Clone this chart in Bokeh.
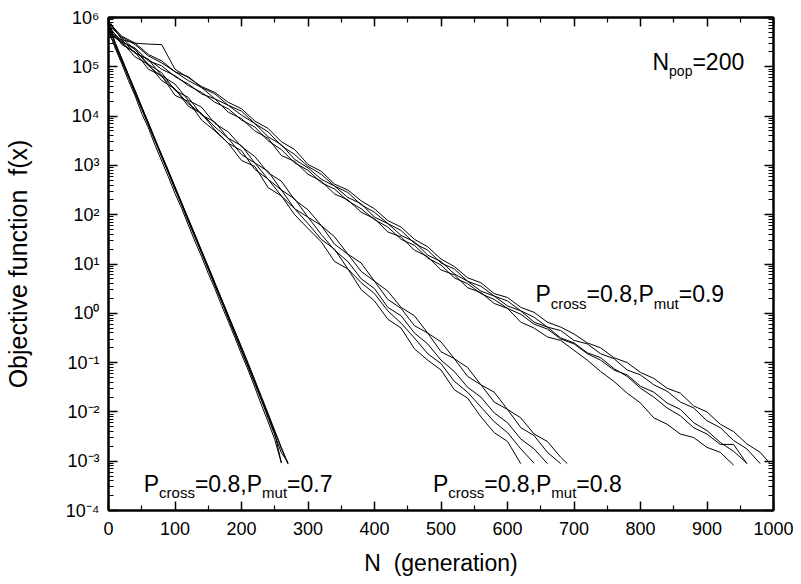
import math
from bokeh.plotting import figure
from bokeh.models import Range1d, FixedTicker, LinearAxis, LogAxis, Label, CustomJSTickFormatter
from bokeh.embed import file_html
from bokeh.resources import INLINE

FONT = "Liberation Sans"

# ---------------- data (log10 of f(x)) ----------------
# P_mut = 0.7 group
gen_a = [0, 10, 20, 30, 40, 50, 60, 70, 80, 90, 100, 110, 120, 130, 140, 150, 160,
         170, 180, 190, 200, 210, 220, 230, 240, 250, 260, 270]
a1 = [5.75, 5.38, 5.06, 4.72, 4.41, 4.05, 3.76, 3.41, 3.09, 2.77, 2.43, 2.13, 1.79, 1.46,
      1.15, 0.81, 0.5, 0.16, -0.16, -0.49, -0.83, -1.15, -1.5, -1.86, -2.2, -2.56, -3.04]
a2 = [5.86, 5.5, 5.16, 4.84, 4.52, 4.19, 3.86, 3.54, 3.21, 2.9, 2.56, 2.24, 1.91, 1.59,
      1.26, 0.94, 0.61, 0.29, -0.05, -0.37, -0.7, -1.04, -1.38, -1.72, -2.06, -2.4, -2.75, -3.06]
a3 = [5.7, 5.42, 5.1, 4.79, 4.46, 4.13, 3.82, 3.49, 3.17, 2.85, 2.51, 2.2, 1.86, 1.54,
      1.22, 0.89, 0.56, 0.24, -0.1, -0.43, -0.76, -1.09, -1.43, -1.77, -2.12, -2.47, -2.83, -3.02]
a4 = [5.9, 5.47, 5.17, 4.83, 4.51, 4.18, 3.87, 3.52, 3.21, 2.88, 2.57, 2.24, 1.92, 1.6,
      1.27, 0.95, 0.62, 0.29, -0.03, -0.36, -0.68, -1.01, -1.35, -1.69, -2.03, -2.38, -2.72, -3.05]
a5 = [5.8, 5.46, 5.13, 4.8, 4.47, 4.16, 3.83, 3.51, 3.18, 2.86, 2.53, 2.21, 1.88, 1.56,
      1.23, 0.9, 0.58, 0.25, -0.08, -0.41, -0.74, -1.07, -1.4, -1.74, -2.09, -2.44, -3.03]

# P_mut = 0.8 group
gen_b = [0, 20, 40, 60, 80, 100, 120, 140, 160, 180, 200, 220, 240, 260, 280, 300, 320,
         340, 360, 380, 400, 420, 440, 460, 480, 500, 520, 540, 560, 580, 600, 620, 640,
         660, 680, 690]
b1 = [5.85, 5.45, 5.3, 4.95, 4.82, 4.42, 4.3, 3.92, 3.7, 3.45, 3.1, 2.98, 2.55, 2.38, 2.0,
      1.72, 1.45, 1.05, 0.9, 0.48, 0.25, -0.12, -0.3, -0.72, -0.95, -1.15, -1.55, -1.72,
      -2.1, -2.42, -2.6, -3.05]
b2 = [5.7, 5.5, 5.2, 5.05, 4.72, 4.55, 4.2, 4.05, 3.72, 3.45, 3.3, 2.92, 2.72, 2.38, 2.12,
      1.82, 1.5, 1.3, 0.9, 0.62, 0.4, 0.05, -0.2, -0.5, -0.82, -1.02, -1.38, -1.6, -1.9,
      -2.2, -2.42, -2.75, -3.04]
b3 = [5.8, 5.52, 5.35, 5.02, 4.8, 4.55, 4.25, 4.05, 3.78, 3.55, 3.22, 3.05, 2.72, 2.5, 2.12,
      1.95, 1.6, 1.28, 1.05, 0.7, 0.5, 0.12, -0.05, -0.4, -0.62, -0.95, -1.18, -1.5, -1.7,
      -2.02, -2.22, -2.55, -2.75, -3.05]
b4 = [5.9, 5.58, 5.35, 5.05, 4.88, 4.52, 4.38, 4.02, 3.88, 3.55, 3.4, 3.05, 2.88, 2.5, 2.32,
      1.95, 1.78, 1.4, 1.2, 0.85, 0.65, 0.28, 0.1, -0.25, -0.4, -0.78, -0.92, -1.28, -1.45,
      -1.8, -1.95, -2.32, -2.48, -2.82, -3.05]
b5 = [5.65, 5.55, 5.28, 5.15, 4.82, 4.65, 4.32, 4.18, 3.85, 3.68, 3.38, 3.18, 2.85, 2.68,
      2.3, 2.1, 1.78, 1.55, 1.2, 1.02, 0.65, 0.45, 0.12, -0.05, -0.4, -0.58, -0.92, -1.1,
      -1.45, -1.6, -1.95, -2.12, -2.45, -2.6, -2.92, -3.05]

# P_mut = 0.9 group
gen_c = [0, 20, 40, 60, 80, 100, 120, 140, 160, 180, 200, 220, 240, 260, 280, 300, 320,
         340, 360, 380, 400, 420, 440, 460, 480, 500, 520, 540, 560, 580, 600, 620, 640,
         660, 680, 700, 720, 740, 760, 780, 800, 820, 840, 860, 880, 900, 920, 940, 960,
         980, 995]
c1 = [5.75, 5.5, 5.38, 5.12, 5.02, 4.8, 4.65, 4.45, 4.35, 4.08, 3.95, 3.7, 3.55, 3.2, 3.08,
      2.82, 2.68, 2.42, 2.3, 2.05, 1.92, 1.65, 1.55, 1.28, 1.15, 0.88, 0.78, 0.52, 0.42, 0.2,
      0.1, -0.18, -0.3, -0.48, -0.55, -0.75, -0.95, -1.18, -1.38, -1.62, -1.82, -2.12,
      -2.25, -2.45, -2.52, -2.72, -2.82, -3.08]
c2 = [5.85, 5.6, 5.45, 5.22, 5.08, 4.9, 4.72, 4.58, 4.35, 4.22, 4.02, 3.85, 3.58, 3.42, 3.12,
      2.95, 2.72, 2.58, 2.35, 2.22, 1.95, 1.82, 1.58, 1.45, 1.18, 1.05, 0.8, 0.65, 0.45, 0.35,
      0.15, 0.05, -0.18, -0.28, -0.5, -0.6, -0.8, -0.9, -1.12, -1.28, -1.52, -1.7, -1.92,
      -2.08, -2.32, -2.45, -2.66, -2.66, -3.05]
c3 = [5.7, 5.48, 5.28, 5.15, 4.95, 4.82, 4.62, 4.48, 4.28, 4.15, 3.92, 3.78, 3.5, 3.32, 3.05,
      2.9, 2.65, 2.52, 2.28, 2.12, 1.9, 1.75, 1.5, 1.38, 1.12, 0.98, 0.72, 0.6, 0.4, 0.28,
      0.1, -0.02, -0.22, -0.32, -0.52, -0.62, -0.82, -0.95, -1.15, -1.25, -1.48, -1.6,
      -1.82, -1.95, -2.22, -2.38, -2.62, -2.8, -3.04]
c4 = [5.9, 5.62, 5.48, 5.25, 5.12, 4.9, 4.8, 4.58, 4.45, 4.22, 4.1, 3.85, 3.68, 3.4, 3.22,
      2.98, 2.82, 2.58, 2.45, 2.2, 2.05, 1.82, 1.68, 1.42, 1.28, 1.02, 0.9, 0.65, 0.55, 0.35,
      0.25, 0.05, -0.08, -0.28, -0.35, -0.55, -0.62, -0.82, -0.92, -1.15, -1.25, -1.45,
      -1.58, -1.8, -1.92, -2.18, -2.32, -2.58, -2.75, -3.05]
c5 = [5.95, 5.55, 5.48, 5.46, 5.45, 4.95, 4.78, 4.6, 4.48, 4.28, 4.15, 3.9, 3.75, 3.48, 3.32,
      3.02, 2.88, 2.62, 2.5, 2.28, 2.12, 1.88, 1.75, 1.5, 1.35, 1.1, 0.95, 0.72, 0.62, 0.4,
      0.32, 0.12, 0.02, -0.18, -0.28, -0.42, -0.6, -0.7, -0.9, -1.0, -1.2, -1.32, -1.52,
      -1.62, -1.88, -2.0, -2.25, -2.4, -2.65, -2.82, -3.05]

x_ticks = [0, 100, 200, 300, 400, 500, 600, 700, 800, 900, 1000]
x_minor = [50, 150, 250, 350, 450, 550, 650, 750, 850, 950]
y_exponents = [-4, -3, -2, -1, 0, 1, 2, 3, 4, 5, 6]
y_tick_labels = ["10\u207b\u2074", "10\u207b\u00b3", "10\u207b\u00b2", "10\u207b\u00b9",
                 "10\u2070", "10\u00b9", "10\u00b2", "10\u00b3", "10\u2074", "10\u2075",
                 "10\u2076"]
x_title = "N \u00a0(generation)"
y_title = "Objective function \u00a0f(x)"

# ---------------- figure ----------------
p = figure(width=801, height=584, y_axis_type="log",
           x_range=Range1d(0, 1000), y_range=Range1d(1e-4, 1e6),
           output_backend="svg", toolbar_location=None,
           min_border_left=107, min_border_right=28, min_border_top=17, min_border_bottom=74,
           background_fill_color="white", border_fill_color="white")
p.xgrid.grid_line_color = None
p.ygrid.grid_line_color = None
p.outline_line_color = "black"
p.outline_line_width = 2

y_major = [10.0 ** e for e in y_exponents]
y_minor = [m * 10.0 ** e for e in y_exponents[:-1] for m in range(2, 10)]
xt = FixedTicker(ticks=x_ticks, minor_ticks=x_minor)
yt = FixedTicker(ticks=y_major, minor_ticks=y_minor)

blank = CustomJSTickFormatter(code="return ''")

xa = p.below[0]
ya = p.left[0]
xa.ticker = xt
ya.ticker = yt
ya.formatter = CustomJSTickFormatter(
    args=dict(labels=y_tick_labels, lo=y_exponents[0]),
    code="return labels[Math.round(Math.log10(tick)) - lo];")

top = LinearAxis(ticker=xt, formatter=blank)
right = LogAxis(ticker=yt, formatter=blank)
p.add_layout(top, "above")
p.add_layout(right, "right")

for ax in [xa, ya, top, right]:
    ax.axis_line_width = 2
    ax.axis_line_color = "black"
    ax.major_tick_in = 9
    ax.major_tick_out = 0
    ax.minor_tick_in = 5
    ax.minor_tick_out = 0
    ax.major_tick_line_width = 1.5
    ax.minor_tick_line_width = 1.2
    ax.major_tick_line_color = "black"
    ax.minor_tick_line_color = "black"

for ax in [xa, ya]:
    ax.major_label_text_font = FONT
    ax.major_label_text_color = "black"
    ax.axis_label_text_font = FONT
    ax.axis_label_text_font_style = "normal"
    ax.axis_label_text_color = "black"

xa.major_label_text_font_size = "18px"
xa.major_label_standoff = 11
xa.axis_label = x_title
xa.axis_label_text_font_size = "23px"
xa.axis_label_standoff = 12

ya.major_label_text_font_size = "18px"
ya.major_label_standoff = 9
ya.axis_label = y_title
ya.axis_label_text_font_size = "25px"
ya.axis_label_standoff = 31

# ---------------- curves ----------------
for ys in [a1, a2, a3, a4, a5]:
    p.line(gen_a[:len(ys)], [10.0 ** v for v in ys], line_color="black", line_width=1)
for ys in [b1, b2, b3, b4, b5]:
    p.line(gen_b[:len(ys)], [10.0 ** v for v in ys], line_color="black", line_width=1)
for ys in [c1, c2, c3, c4, c5]:
    p.line(gen_c[:len(ys)], [10.0 ** v for v in ys], line_color="black", line_width=1)

# ---------------- texts inside the frame ----------------
CW = {'P': 0.667, 'N': 0.722, 'c': 0.5, 'r': 0.333, 'o': 0.556, 's': 0.5, 'm': 0.833,
      'u': 0.556, 't': 0.278, 'p': 0.556, '=': 0.584, '.': 0.278, ',': 0.278, '-': 0.333}
for d in "0123456789":
    CW[d] = 0.556


def tw(s, size):
    return sum(CW[ch] for ch in s) * size


def rich(x, y, parts, big=23, small=15, drop=9):
    off = 0.0
    for t, sub in parts:
        size = small if sub else big
        p.add_layout(Label(x=x, y=y, x_offset=off, y_offset=-drop if sub else 0, text=t,
                           text_font=FONT, text_font_size=f"{size}px", text_color="black",
                           text_align="left", text_baseline="alphabetic"))
        off += tw(t, size)


rich(818, 1.28e5, [("N", False), ("pop", True), ("=200", False)], small=14)
rich(642, 2.45, [("P", False), ("cross", True), ("=0.8,P", False), ("mut", True), ("=0.9", False)])
rich(53, 3.5e-4, [("P", False), ("cross", True), ("=0.8,P", False), ("mut", True), ("=0.7", False)])
rich(488, 3.5e-4, [("P", False), ("cross", True), ("=0.8,P", False), ("mut", True), ("=0.8", False)])

open("out.html", "w").write(file_html(p, INLINE))
